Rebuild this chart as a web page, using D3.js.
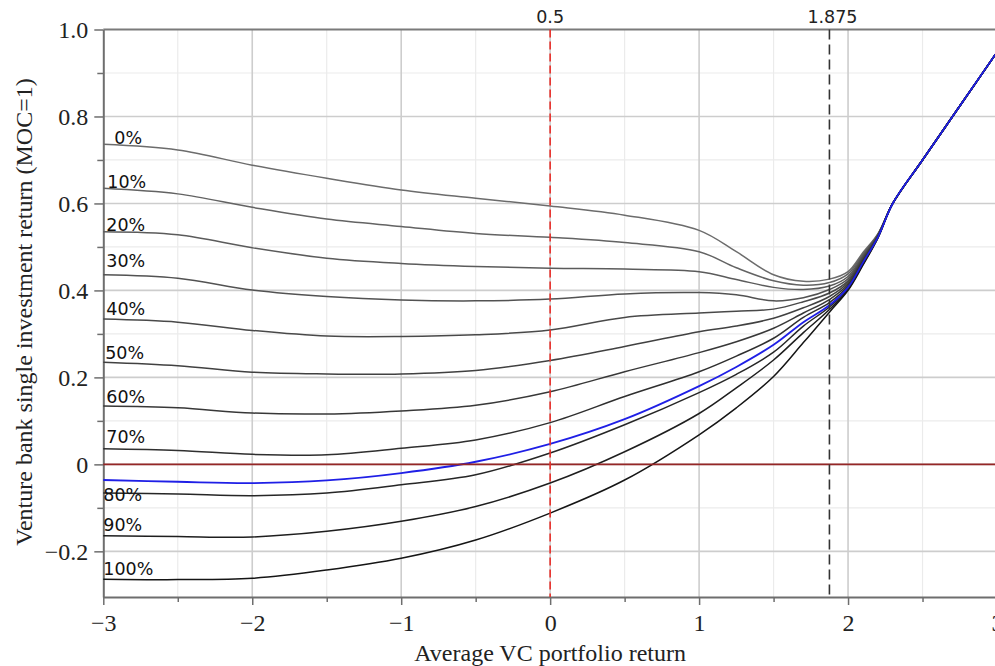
<!DOCTYPE html>
<html><head><meta charset="utf-8">
<script src="https://cdn.jsdelivr.net/npm/d3@7"></script>
<style>
html,body{margin:0;padding:0;background:#fff;}
svg{display:block;}
</style>
</head><body>
<svg id="chart" width="995" height="666"></svg>
<script>
// ---- data ----
const xs = [-3, -2.5, -2, -1.5, -1, -0.5, 0, 0.5, 1, 1.25, 1.5, 1.7, 1.875, 2, 2.1, 2.2, 2.3, 2.5, 2.75, 3];
const curve0   = [0.736, 0.723, 0.688, 0.658, 0.631, 0.612, 0.594, 0.573, 0.538, 0.489, 0.436, 0.421, 0.426, 0.443, 0.487, 0.530, 0.6, 0.70, 0.824, 0.948];
const curve10  = [0.635, 0.622, 0.591, 0.564, 0.547, 0.531, 0.522, 0.510, 0.489, 0.452, 0.422, 0.412, 0.418, 0.438, 0.484, 0.529, 0.6, 0.70, 0.824, 0.948];
const curve20  = [0.535, 0.528, 0.498, 0.474, 0.462, 0.455, 0.451, 0.449, 0.443, 0.425, 0.407, 0.402, 0.410, 0.432, 0.481, 0.528, 0.6, 0.70, 0.824, 0.948];
const curve30  = [0.436, 0.428, 0.401, 0.386, 0.378, 0.376, 0.380, 0.392, 0.395, 0.390, 0.376, 0.383, 0.402, 0.427, 0.478, 0.527, 0.6, 0.70, 0.824, 0.948];
const curve40  = [0.334, 0.327, 0.308, 0.295, 0.294, 0.298, 0.309, 0.338, 0.348, 0.352, 0.357, 0.374, 0.394, 0.422, 0.475, 0.526, 0.6, 0.70, 0.824, 0.948];
const curve50  = [0.235, 0.227, 0.212, 0.208, 0.208, 0.216, 0.239, 0.271, 0.305, 0.318, 0.336, 0.360, 0.386, 0.418, 0.472, 0.525, 0.6, 0.70, 0.824, 0.948];
const curve60  = [0.134, 0.130, 0.118, 0.116, 0.123, 0.136, 0.167, 0.213, 0.257, 0.282, 0.313, 0.348, 0.379, 0.414, 0.469, 0.524, 0.6, 0.70, 0.824, 0.948];
const curve70  = [0.036, 0.032, 0.023, 0.022, 0.037, 0.056, 0.096, 0.156, 0.213, 0.249, 0.290, 0.338, 0.372, 0.410, 0.466, 0.523, 0.6, 0.70, 0.824, 0.948];
const curve80  = [-0.066, -0.068, -0.072, -0.066, -0.047, -0.024, 0.026, 0.091, 0.165, 0.207, 0.258, 0.318, 0.362, 0.405, 0.462, 0.522, 0.6, 0.70, 0.824, 0.948];
const curve90  = [-0.164, -0.166, -0.167, -0.154, -0.131, -0.097, -0.043, 0.029, 0.117, 0.176, 0.240, 0.303, 0.356, 0.402, 0.460, 0.521, 0.6, 0.70, 0.824, 0.948];
const curve100 = [-0.264, -0.265, -0.262, -0.243, -0.216, -0.174, -0.112, -0.036, 0.068, 0.130, 0.202, 0.280, 0.350, 0.400, 0.458, 0.520, 0.6, 0.70, 0.824, 0.948];
const blueCurve = [-0.036, -0.040, -0.043, -0.037, -0.020, 0.006, 0.047, 0.104, 0.180, 0.224, 0.275, 0.327, 0.366, 0.407, 0.464, 0.522, 0.6, 0.70, 0.824, 0.948];

const curveNames = ["0%", "10%", "20%", "30%", "40%", "50%", "60%", "70%", "80%", "90%", "100%"];
// label anchor (data units): x, y
const labelX = [-2.926, -2.973, -2.98, -2.98, -2.98, -2.987, -2.98, -2.98, -3.0, -3.0, -3.0];
const labelY = [0.737, 0.636, 0.537, 0.455, 0.344, 0.243, 0.142, 0.049, -0.084, -0.154, -0.254];

const xTickValues = [-3, -2, -1, 0, 1, 2, 3];
const xTickLabels = ["\u22123", "\u22122", "\u22121", "0", "1", "2", "3"];
const xMinor = [-2.5, -1.5, -0.5, 0.5, 1.5, 2.5];
const yTickValues = [-0.2, 0, 0.2, 0.4, 0.6, 0.8, 1.0];
const yTickLabels = ["\u22120.2", "0", "0.2", "0.4", "0.6", "0.8", "1.0"];
const yMinor = [-0.1, 0.1, 0.3, 0.5, 0.7, 0.9];
const markerX = [0, 1.875];
const markerLabels = ["0.5", "1.875"];

const curves = [curve0, curve10, curve20, curve30, curve40, curve50, curve60, curve70, curve80, curve90, curve100];

// ---- layout ----
const svg = d3.select("#chart");
const x = d3.scaleLinear().domain([-3, 3]).range([103.3, 997]);
const y = d3.scaleLinear().domain([-0.305, 1.0]).range([597, 29.5]);
const X0 = x.range()[0], X1 = x.range()[1], Y0 = y.range()[0], Y1 = y.range()[1];
const serif = "'Liberation Serif', 'Times New Roman', serif";
const sans = "'DejaVu Sans', sans-serif";

// grid
const grid = svg.append("g");
grid.selectAll(".vmin").data(xMinor).join("line")
  .attr("x1", d => x(d)).attr("x2", d => x(d)).attr("y1", Y1).attr("y2", Y0)
  .attr("stroke", "#ebebeb").attr("stroke-width", 1.2);
grid.selectAll(".hmin").data(yMinor).join("line")
  .attr("x1", X0).attr("x2", X1).attr("y1", d => y(d)).attr("y2", d => y(d))
  .attr("stroke", "#ebebeb").attr("stroke-width", 1.2);
grid.selectAll(".vmaj").data(xTickValues.filter(d => d > -3 && d < 3)).join("line")
  .attr("x1", d => x(d)).attr("x2", d => x(d)).attr("y1", Y1).attr("y2", Y0)
  .attr("stroke", "#cdcdcd").attr("stroke-width", 1.6);
grid.selectAll(".hmaj").data(yTickValues.filter(d => d < 1)).join("line")
  .attr("x1", X0).attr("x2", X1).attr("y1", d => y(d)).attr("y2", d => y(d))
  .attr("stroke", "#cdcdcd").attr("stroke-width", 1.6);

// axes
const fmtX = d => xTickLabels[xTickValues.indexOf(d)];
const fmtY = d => yTickLabels[yTickValues.findIndex(v => Math.abs(v - d) < 1e-9)];

function styleAxis(g) {
  g.select(".domain").attr("stroke", "#6e6e6e").attr("stroke-width", 2);
  g.selectAll(".tick line").attr("stroke", "#6e6e6e").attr("stroke-width", 1.5);
  g.selectAll(".tick text").attr("fill", "#222")
    .style("font-family", serif).style("font-size", "24px");
}

const xAxis = svg.append("g").attr("transform", `translate(0,${Y0})`)
  .call(d3.axisBottom(x).tickValues(xTickValues).tickFormat(fmtX).tickSize(8).tickSizeOuter(0).tickPadding(9));
styleAxis(xAxis);
const xAxisMinor = svg.append("g").attr("transform", `translate(0,${Y0})`)
  .call(d3.axisBottom(x).tickValues(xMinor).tickFormat("").tickSize(5).tickSizeOuter(0));
xAxisMinor.select(".domain").remove();
xAxisMinor.selectAll(".tick line").attr("stroke", "#6e6e6e").attr("stroke-width", 1.5);

const yAxis = svg.append("g").attr("transform", `translate(${X0},0)`)
  .call(d3.axisLeft(y).tickValues(yTickValues).tickFormat(fmtY).tickSize(9).tickSizeOuter(0).tickPadding(6));
styleAxis(yAxis);
const yAxisMinor = svg.append("g").attr("transform", `translate(${X0},0)`)
  .call(d3.axisLeft(y).tickValues(yMinor).tickFormat("").tickSize(6).tickSizeOuter(0));
yAxisMinor.select(".domain").remove();
yAxisMinor.selectAll(".tick line").attr("stroke", "#6e6e6e").attr("stroke-width", 1.5);

// top border
svg.append("line").attr("x1", X0).attr("x2", X1).attr("y1", Y1).attr("y2", Y1)
  .attr("stroke", "#7a7a7a").attr("stroke-width", 2);

// curves
const line = d3.line().x((d, i) => x(xs[i])).y(d => y(d)).curve(d3.curveCatmullRom.alpha(0.5));
const shade = d3.interpolateRgb("#6c6c6c", "#151515");
svg.append("g").selectAll("path").data(curves).join("path")
  .attr("d", d => line(d))
  .attr("fill", "none")
  .attr("stroke", (d, i) => shade(i / 10))
  .attr("stroke-width", 1.5);

svg.append("path").attr("d", line(blueCurve)).attr("fill", "none")
  .attr("stroke", "#1f1fe6").attr("stroke-width", 1.8);

// zero line
svg.append("line").attr("x1", X0).attr("x2", X1).attr("y1", y(0)).attr("y2", y(0))
  .attr("stroke", "#952626").attr("stroke-width", 1.6);

// marker lines
svg.append("line").attr("x1", x(markerX[0])).attr("x2", x(markerX[0])).attr("y1", Y1).attr("y2", Y0)
  .attr("stroke", "#e8302a").attr("stroke-width", 1.6).attr("stroke-dasharray", "8,4");
svg.append("line").attr("x1", x(markerX[1])).attr("x2", x(markerX[1])).attr("y1", Y1).attr("y2", Y0)
  .attr("stroke", "#333").attr("stroke-width", 1.6).attr("stroke-dasharray", "10,5");

svg.selectAll(".mlab").data(markerX).join("text")
  .attr("x", (d, i) => x(d) + (i === 1 ? 3 : 0)).attr("y", 23)
  .attr("text-anchor", "middle")
  .style("font-family", sans).style("font-size", "17.5px").attr("fill", "#222")
  .text((d, i) => markerLabels[i]);

// curve labels
svg.selectAll(".clab").data(curveNames).join("text")
  .attr("x", (d, i) => x(labelX[i])).attr("y", (d, i) => y(labelY[i]))
  .style("font-family", sans).style("font-size", "17.5px").attr("fill", "#111")
  .text(d => d);

// axis titles
svg.append("text").attr("x", (X0 + X1) / 2).attr("y", 661).attr("text-anchor", "middle")
  .style("font-family", serif).style("font-size", "24px").attr("fill", "#222")
  .text("Average VC portfolio return");
svg.append("text").attr("transform", "translate(32,312) rotate(-90)").attr("text-anchor", "middle")
  .style("font-family", serif).style("font-size", "24px").attr("fill", "#222")
  .text("Venture bank single investment return (MOC=1)");
</script>
</body></html>
